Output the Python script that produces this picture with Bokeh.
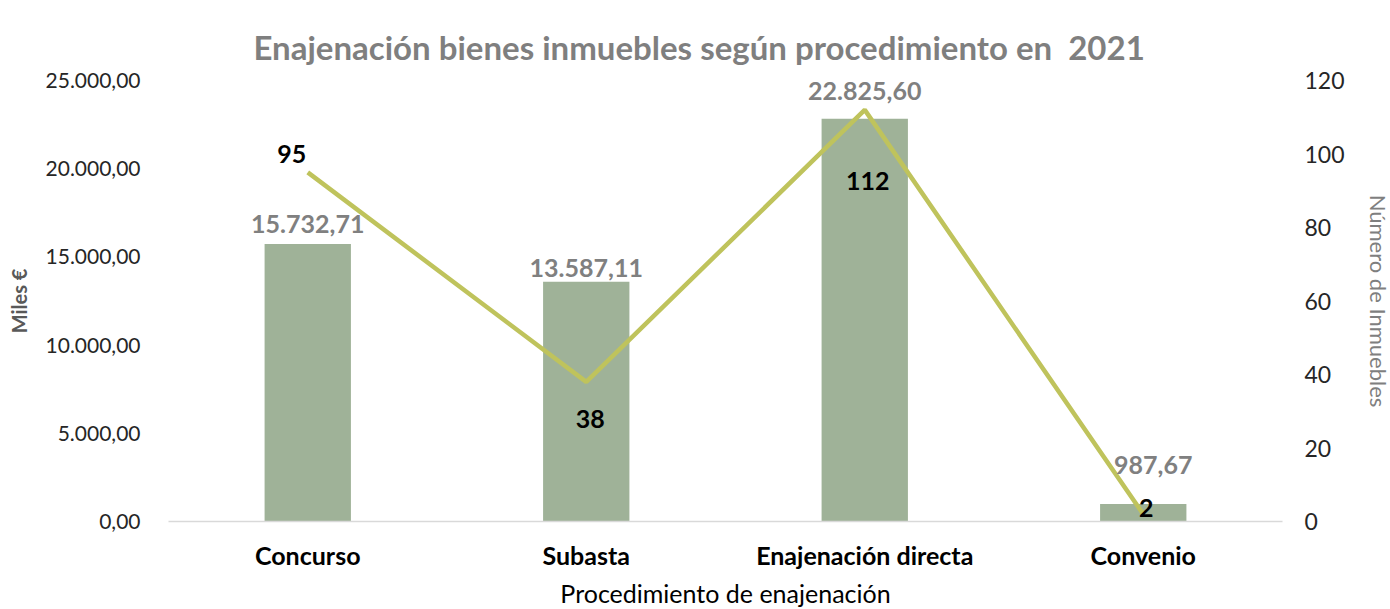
from bokeh.plotting import figure
from bokeh.models import Range1d, LinearAxis, FixedTicker, ColumnDataSource, LabelSet
from bokeh.core.properties import value
from bokeh.embed import file_html
from bokeh.resources import INLINE

# ---- data ----
categories = ["Concurso", "Subasta", "Enajenación directa", "Convenio"]
importe_miles = [15732.71, 13587.11, 22825.60, 987.67]
importe_labels = ["15.732,71", "13.587,11", "22.825,60", "987,67"]
num_inmuebles = [95, 38, 112, 2]
num_labels = ["95", "38", "112", "2"]
left_ticks = [0, 5000, 10000, 15000, 20000, 25000]
left_tick_labels = ["0,00", "5.000,00", "10.000,00", "15.000,00", "20.000,00", "25.000,00"]
right_ticks = [0, 20, 40, 60, 80, 100, 120]

FONT = "Lato"

# label offsets in pixels (style only)
bar_label_dx = [0, 0, 0, 10]
bar_label_dy = [20, 14, 28, 39]
line_label_dx = [-16, 4, 3, 3]
line_label_dy = [18, -37, -71, 6]

src = ColumnDataSource(dict(
    cat=categories, importe=importe_miles, ilab=importe_labels,
    n=num_inmuebles, nlab=num_labels,
    bdx=bar_label_dx, bdy=bar_label_dy, ldx=line_label_dx, ldy=line_label_dy,
))

p = figure(x_range=categories, y_range=Range1d(0, 25000),
           frame_width=1114, frame_height=441,
           min_border_left=168, min_border_right=108,
           min_border_top=80, min_border_bottom=88,
           output_backend="svg", toolbar_location=None)
p.outline_line_color = None
p.background_fill_color = "white"
p.border_fill_color = "white"
p.xgrid.grid_line_color = None
p.ygrid.grid_line_color = None

p.title.text = "Enajenación bienes inmuebles según procedimiento en\u00a0\u00a02021"
p.title.align = "left"
p.title.offset = 85
p.title.text_font = FONT
p.title.text_font_size = "33px"
p.title.text_font_style = "bold"
p.title.text_color = "#7f7f7f"
p.title.standoff = 28

p.extra_y_ranges = {"n": Range1d(0, 120)}

# bars
p.vbar(x="cat", top="importe", width=0.31, source=src,
       fill_color="#9fb298", line_color=None)
# line
p.line(x="cat", y="n", y_range_name="n", source=src,
       line_color="#bfc35c", line_width=4.5)

bar_labels = LabelSet(x="cat", y="importe", text="ilab", source=src,
                      x_offset="bdx", y_offset="bdy",
                      text_align="center", text_baseline="middle",
                      text_font=value(FONT), text_font_size="25px",
                      text_font_style="bold", text_color="#808080")
p.add_layout(bar_labels)
line_labels = LabelSet(x="cat", y="n", text="nlab", source=src, y_range_name="n",
                       x_offset="ldx", y_offset="ldy", text_align="center",
                       text_baseline="middle",
                       text_font=value(FONT), text_font_size="25px",
                       text_font_style="bold", text_color="#000000")
p.add_layout(line_labels)

# x axis
xa = p.xaxis[0]
xa.axis_label = "Procedimiento de enajenación"
xa.axis_label_text_font = FONT
xa.axis_label_text_font_size = "25px"
xa.axis_label_text_font_style = "normal"
xa.axis_label_text_color = "#000000"
xa.axis_label_standoff = 5
xa.major_label_text_font = FONT
xa.major_label_text_font_size = "25px"
xa.major_label_text_font_style = "bold"
xa.major_label_text_color = "#000000"
xa.major_label_standoff = 12
xa.axis_line_color = "#d9d9d9"
xa.axis_line_width = 1.5
xa.major_tick_line_color = None
xa.minor_tick_line_color = None

# left axis
ya = p.yaxis[0]
ya.ticker = FixedTicker(ticks=left_ticks)
ya.major_label_overrides = {t: l for t, l in zip(left_ticks, left_tick_labels)}
ya.axis_label = "Miles €"
ya.axis_label_text_font = FONT
ya.axis_label_text_font_size = "20px"
ya.axis_label_text_font_style = "bold"
ya.axis_label_text_color = "#595959"
ya.axis_label_standoff = 12
ya.major_label_text_font = FONT
ya.major_label_text_font_size = "21px"
ya.major_label_text_color = "#262626"
ya.major_label_standoff = 22
ya.axis_line_color = None
ya.major_tick_line_color = None
ya.minor_tick_line_color = None

# right axis
ra = LinearAxis(y_range_name="n", ticker=FixedTicker(ticks=right_ticks))
ra.axis_label = "Número de Inmuebles"
ra.axis_label_text_font = FONT
ra.axis_label_text_font_size = "22px"
ra.axis_label_text_font_style = "normal"
ra.axis_label_text_color = "#7f7f7f"
ra.axis_label_standoff = 17
ra.major_label_text_font = FONT
ra.major_label_text_font_size = "23px"
ra.major_label_text_color = "#262626"
ra.major_label_standoff = 16
ra.axis_line_color = None
ra.major_tick_line_color = None
ra.minor_tick_line_color = None
p.add_layout(ra, "right")

open("out.html", "w").write(file_html(p, INLINE))
